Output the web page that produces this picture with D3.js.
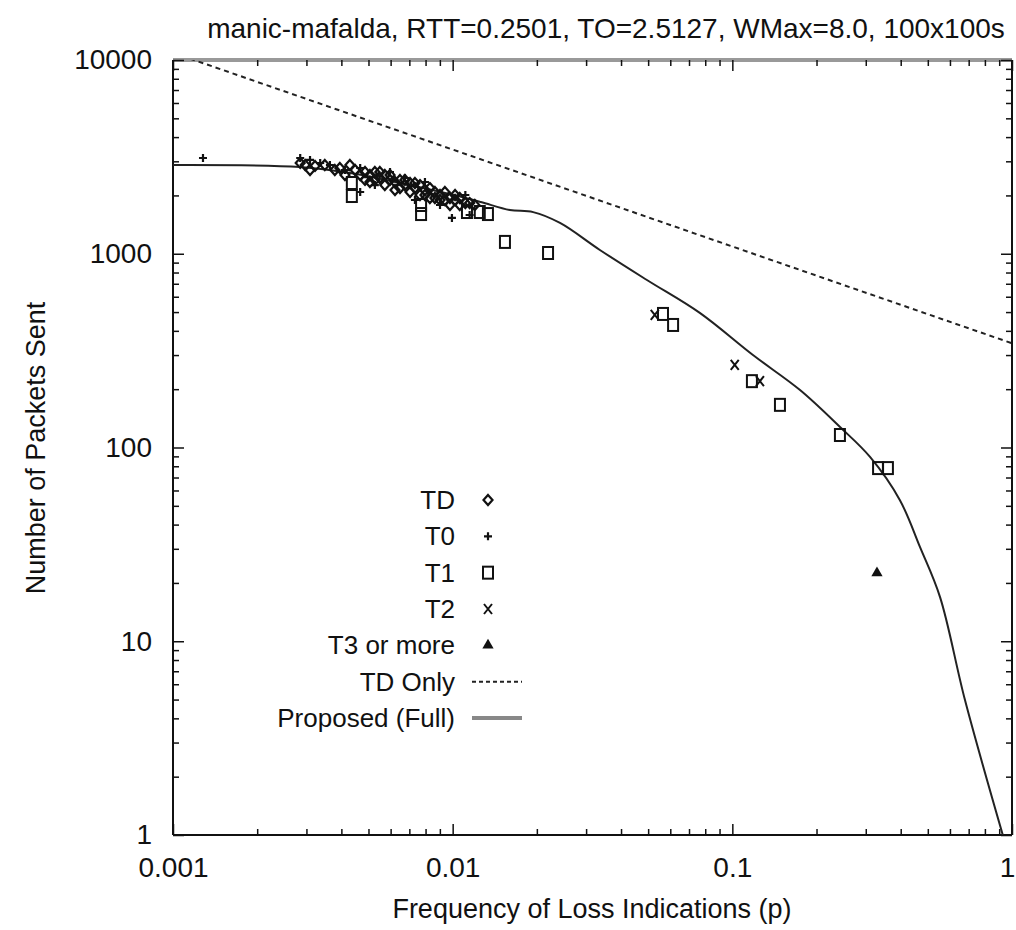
<!DOCTYPE html>
<html>
<head>
<meta charset="utf-8">
<script src="https://cdn.jsdelivr.net/npm/d3@7"></script>
<style>
  body { margin: 0; background: #fff; }
  text { font-family: "Liberation Sans", Arial, sans-serif; fill: #111; }
</style>
</head>
<body>
<svg width="1016" height="930"></svg>
<script>
// data
var titleText = "manic-mafalda, RTT=0.2501, TO=2.5127, WMax=8.0, 100x100s";
var xTicks = [0.001, 0.01, 0.1, 1];
var xTickLabels = ["0.001", "0.01", "0.1", "1"];
var yTicks = [1, 10, 100, 1000, 10000];
var yTickLabels = ["1", "10", "100", "1000", "10000"];

var tdP = [0.00285, 0.00297, 0.00322, 0.00395, 0.00448, 0.00486, 0.00506, 0.00527, 0.00549, 0.00572,
           0.00597, 0.00622, 0.00648, 0.00675, 0.00704, 0.00733, 0.00764, 0.00796, 0.00829, 0.00864,
           0.00901, 0.00938, 0.00978, 0.0102, 0.0106, 0.0115, 0.0120, 0.00506, 0.00622, 0.00764,
           0.00901, 0.00486, 0.00704, 0.00829, 0.00978,
           0.00309, 0.00349, 0.00379, 0.00412, 0.00429, 0.00467, 0.00527, 0.00549, 0.00572, 0.00597,
           0.00648, 0.00675, 0.00733, 0.00796, 0.00864, 0.00938, 0.0102, 0.0106, 0.0111];
var tdN = [2941, 2871, 2838, 2771, 2706, 2642, 2549, 2642, 2460, 2549,
           2404, 2346, 2404, 2263, 2318, 2184, 2263, 2133, 2184, 2083,
           2010, 2083, 1940, 1894, 1940, 1827, 1785, 2346, 2133, 2010,
           1894, 2404, 2083, 1940, 1785,
           2706, 2871, 2706, 2549, 2871, 2549, 2404, 2642, 2263, 2549,
           2184, 2404, 2318, 2010, 1940, 1894, 2010, 1785, 1827];

var t0P = [0.00128, 0.00285, 0.00309, 0.00336, 0.00364, 0.00412, 0.00467, 0.00527, 0.00597, 0.00675,
           0.00796, 0.00994, 0.00901, 0.0111, 0.0115, 0.00467, 0.00733];
var t0N = [3120, 3120, 3048, 2941, 2871, 2706, 2771, 2263, 2642, 2460,
           2346, 1530, 1785, 2010, 1585, 2083, 1894];

var t1P = [0.00436, 0.00436, 0.00771, 0.00771, 0.01125, 0.0125, 0.01337, 0.01538, 0.02193, 0.0565,
           0.0614, 0.1175, 0.148, 0.2425, 0.332, 0.360];
var t1N = [2318, 1986, 1785, 1603, 1642, 1642, 1603, 1151, 1009, 489,
           429, 220, 166, 116, 78.3, 78.3];

var t2P = [0.0528, 0.102, 0.1255];
var t2N = [483, 267, 220];

var t3P = [0.329];
var t3N = [22.5];

var tdOnlyP = [0.001, 0.01, 0.1, 1];
var tdOnlyN = [10900, 3450, 1090, 345];

var fullP = [0.001, 0.00284, 0.0043, 0.0065, 0.01, 0.0126, 0.016, 0.0194, 0.0242, 0.0336,
             0.0495, 0.0765, 0.1185, 0.1746, 0.2427, 0.3107, 0.397, 0.469, 0.553, 0.679, 0.927];
var fullN = [2872, 2805, 2612, 2318, 2015, 1850, 1683, 1640, 1442, 1046,
             732, 495, 300, 198, 127.6, 89.4, 53.6, 30.6, 16.9, 4.97, 1];

var legendLabels = ["TD", "T0", "T1", "T2", "T3 or more", "TD Only", "Proposed (Full)"];

var svg = d3.select("svg");
var mLeft = 173, mRight = 1012, mTop = 60, mBottom = 835;

var x = d3.scaleLog().domain([0.001, 1]).range([mLeft, mRight]);
var y = d3.scaleLog().domain([1, 10000]).range([mBottom, mTop]);

function minors(lo, hi) {
  var out = [];
  for (var d = lo; d < hi; d *= 10)
    for (var k = 2; k <= 9; k++) out.push(d * k);
  return out;
}
var xMinor = minors(0.001, 1);
var yMinor = minors(1, 10000);

// frame
svg.append("line").attr("x1", mLeft).attr("x2", mRight).attr("y1", mTop).attr("y2", mTop)
  .attr("stroke", "#999").attr("stroke-width", 4);
svg.append("line").attr("x1", mLeft).attr("x2", mRight).attr("y1", mBottom).attr("y2", mBottom)
  .attr("stroke", "#111").attr("stroke-width", 2);
svg.append("line").attr("x1", mLeft).attr("x2", mLeft).attr("y1", mTop).attr("y2", mBottom)
  .attr("stroke", "#111").attr("stroke-width", 2);
svg.append("line").attr("x1", mRight).attr("x2", mRight).attr("y1", mTop).attr("y2", mBottom)
  .attr("stroke", "#111").attr("stroke-width", 2);

function styleAxis(g) {
  g.select(".domain").remove();
  g.selectAll(".tick line").attr("stroke", "#111").attr("stroke-width", 1.5);
  g.selectAll(".tick text").attr("font-size", 28).attr("fill", "#111");
}

// x axes
svg.append("g").attr("transform", "translate(0," + mBottom + ")")
  .call(d3.axisBottom(x).tickValues(xTicks).tickSize(-11).tickPadding(22)
    .tickFormat(function(d, i) { return xTickLabels[i]; }))
  .call(styleAxis)
  .selectAll(".tick text").filter(function(d) { return d === 1; }).attr("dx", "-5");
svg.append("g").attr("transform", "translate(0," + mBottom + ")")
  .call(d3.axisBottom(x).tickValues(xMinor).tickSize(-6).tickFormat(""))
  .call(styleAxis);
svg.append("g").attr("transform", "translate(0," + mTop + ")")
  .call(d3.axisTop(x).tickValues(xTicks).tickSize(-11).tickFormat(""))
  .call(styleAxis);
svg.append("g").attr("transform", "translate(0," + mTop + ")")
  .call(d3.axisTop(x).tickValues(xMinor).tickSize(-6).tickFormat(""))
  .call(styleAxis);

// y axes
svg.append("g").attr("transform", "translate(" + mLeft + ",0)")
  .call(d3.axisLeft(y).tickValues(yTicks).tickSize(-11).tickPadding(21)
    .tickFormat(function(d, i) { return yTickLabels[i]; }))
  .call(styleAxis);
svg.append("g").attr("transform", "translate(" + mLeft + ",0)")
  .call(d3.axisLeft(y).tickValues(yMinor).tickSize(-6).tickFormat(""))
  .call(styleAxis);
svg.append("g").attr("transform", "translate(" + mRight + ",0)")
  .call(d3.axisRight(y).tickValues(yTicks).tickSize(-11).tickFormat(""))
  .call(styleAxis);
svg.append("g").attr("transform", "translate(" + mRight + ",0)")
  .call(d3.axisRight(y).tickValues(yMinor).tickSize(-6).tickFormat(""))
  .call(styleAxis);

// titles
svg.append("text").attr("x", 606).attr("y", 38).attr("text-anchor", "middle")
  .attr("font-size", 28).text(titleText);
svg.append("text").attr("x", 592).attr("y", 918).attr("text-anchor", "middle")
  .attr("font-size", 27).text("Frequency of Loss Indications (p)");
svg.append("text").attr("transform", "translate(45,448) rotate(-90)").attr("text-anchor", "middle")
  .attr("font-size", 27).text("Number of Packets Sent");

svg.append("clipPath").attr("id", "plotclip").append("rect")
  .attr("x", mLeft).attr("y", mTop).attr("width", mRight - mLeft).attr("height", mBottom - mTop);

var plot = svg.append("g").attr("clip-path", "url(#plotclip)");

var line = d3.line().x(function(d) { return x(d[0]); }).y(function(d) { return y(d[1]); });

plot.append("path").datum(d3.zip(tdOnlyP, tdOnlyN)).attr("d", line)
  .attr("fill", "none").attr("stroke", "#222").attr("stroke-width", 2)
  .attr("stroke-dasharray", "5,4");
plot.append("path").datum(d3.zip(fullP, fullN))
  .attr("d", d3.line().curve(d3.curveCatmullRom.alpha(0.5))
    .x(function(d) { return x(d[0]); }).y(function(d) { return y(d[1]); }))
  .attr("fill", "none").attr("stroke", "#222").attr("stroke-width", 2)
  .attr("stroke-linejoin", "round");

// markers
function drawMarker(g, type) {
  if (type === "TD") {
    g.append("path").attr("d", "M0,-5L4.5,0L0,5L-4.5,0Z").attr("fill", "none")
      .attr("stroke", "#111").attr("stroke-width", 2.2);
  } else if (type === "T0") {
    g.append("path").attr("d", "M-4,0H4M0,-4V4").attr("stroke", "#111").attr("stroke-width", 2.2);
  } else if (type === "T1") {
    g.append("rect").attr("x", -5).attr("y", -6).attr("width", 10).attr("height", 12)
      .attr("fill", "none").attr("stroke", "#111").attr("stroke-width", 2);
  } else if (type === "T2") {
    g.append("path").attr("d", "M-4,-5L4,5M4,-5L-4,5").attr("stroke", "#111").attr("stroke-width", 2);
  } else {
    g.append("path").attr("d", d3.symbol(d3.symbolTriangle, 55)()).attr("fill", "#111");
  }
}

var series = [
  ["TD", tdP, tdN], ["T0", t0P, t0N], ["T1", t1P, t1N], ["T2", t2P, t2N], ["T3", t3P, t3N]
];
series.forEach(function(s) {
  plot.append("g").selectAll("g").data(d3.zip(s[1], s[2])).enter().append("g")
    .attr("transform", function(d) { return "translate(" + x(d[0]) + "," + y(d[1]) + ")"; })
    .each(function() { drawMarker(d3.select(this), s[0]); });
});

// legend
var legY = d3.scalePoint().domain(legendLabels).range([500, 718]);
var leg = svg.append("g");
legendLabels.forEach(function(lab, i) {
  leg.append("text").attr("x", 455).attr("y", legY(lab)).attr("dy", "0.35em")
    .attr("text-anchor", "end").attr("font-size", 26).text(lab);
  if (i < 5) {
    var g = leg.append("g").attr("transform", "translate(488," + legY(lab) + ")");
    drawMarker(g, ["TD", "T0", "T1", "T2", "T3"][i]);
  } else if (i === 5) {
    leg.append("line").attr("x1", 472).attr("x2", 522).attr("y1", legY(lab)).attr("y2", legY(lab))
      .attr("stroke", "#222").attr("stroke-width", 2).attr("stroke-dasharray", "4,3");
  } else {
    leg.append("line").attr("x1", 472).attr("x2", 522).attr("y1", legY(lab)).attr("y2", legY(lab))
      .attr("stroke", "#888").attr("stroke-width", 4);
  }
});
</script>
</body>
</html>
